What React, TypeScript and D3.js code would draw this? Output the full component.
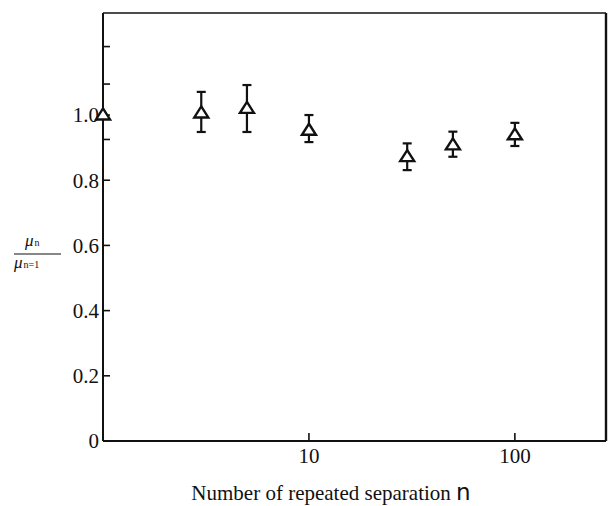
import * as d3 from 'd3';

// repeated separation count n and normalized mobility mu_n / mu_(n=1)
const nValues = [1, 3, 5, 10, 30, 50, 100];
const ratio = [1.0, 1.006, 1.02, 0.953, 0.872, 0.908, 0.939];
const errHigh = [null, 1.071, 1.092, 1.0, 0.913, 0.949, 0.976];
const errLow = [null, 0.948, 0.948, 0.917, 0.831, 0.872, 0.905];

const yTickLabels = [0, 0.2, 0.4, 0.6, 0.8, 1.0];
const yMinorTicks = [0.925, 1.095, 1.21];
const xTickValues = [10, 100];

const W = 612;
const H = 506;
const left = 103;
const right = 606;
const top = 13;
const bottom = 441;

export default function App() {
  const x = d3.scaleLog().domain([1, 277]).range([left, right]);
  const y = d3.scaleLinear().domain([0, 1.313]).range([bottom, top]);

  const tri = (cx: number, cy: number) => {
    const w = 7, h = 11;
    return `M${cx},${cy - h * 0.6} L${cx + w},${cy + h * 0.4} L${cx - w},${cy + h * 0.4} Z`;
  };

  const serif = { fontFamily: 'Liberation Serif, Times New Roman, serif' };

  return (
    <div style={{ position: 'absolute', left: 0, top: 0 }}>
      <svg width={W} height={H} style={{ display: 'block', background: '#fff' }}>
        {/* frame */}
        <line x1={left} y1={top} x2={right} y2={top} stroke="#111" strokeWidth={1.4} />
        <line x1={right} y1={top} x2={right} y2={bottom} stroke="#111" strokeWidth={2.4} />
        <line x1={left} y1={bottom} x2={right} y2={bottom} stroke="#111" strokeWidth={2} />
        <line x1={left} y1={top} x2={left} y2={bottom} stroke="#111" strokeWidth={2} />

        {/* y ticks */}
        {yTickLabels.map(v => (
          <g key={'y' + v}>
            <line x1={left} x2={left + 7} y1={y(v)} y2={y(v)} stroke="#111" strokeWidth={1.6} />
            <text x={left - 4} y={y(v)} dy="0.35em" textAnchor="end" style={serif} fontSize={21} fill="#111">
              {v === 0 ? '0' : d3.format('.1f')(v)}
            </text>
          </g>
        ))}
        {yMinorTicks.map(v => (
          <line key={'m' + v} x1={left} x2={left + 7} y1={y(v)} y2={y(v)} stroke="#111" strokeWidth={1.6} />
        ))}

        {/* x ticks */}
        {xTickValues.map(v => (
          <g key={'x' + v}>
            <line x1={x(v)} x2={x(v)} y1={bottom} y2={bottom - 8} stroke="#111" strokeWidth={1.6} />
            <text x={x(v)} y={bottom + 22} textAnchor="middle" style={serif} fontSize={21} fill="#111">
              {v}
            </text>
          </g>
        ))}

        {/* error bars */}
        {nValues.map((n, i) => {
          if (errHigh[i] == null || errLow[i] == null) return null;
          const cx = x(n);
          return (
            <g key={'e' + n} stroke="#111" strokeWidth={2.2}>
              <line x1={cx} x2={cx} y1={y(errHigh[i] as number)} y2={y(errLow[i] as number)} />
              <line x1={cx - 4.5} x2={cx + 4.5} y1={y(errHigh[i] as number)} y2={y(errHigh[i] as number)} />
              <line x1={cx - 4.5} x2={cx + 4.5} y1={y(errLow[i] as number)} y2={y(errLow[i] as number)} />
            </g>
          );
        })}

        {/* triangles */}
        {nValues.map((n, i) => (
          <path key={'t' + n} d={tri(x(n), y(ratio[i]))} fill="#fff" stroke="#111" strokeWidth={2.4} strokeLinejoin="miter" />
        ))}

        {/* y label fraction */}
        <g style={serif} fill="#111">
          <text x={25} y={246} fontSize={17} fontStyle="italic">μ<tspan fontSize={10} fontStyle="normal" dx={1}>n</tspan></text>
          <line x1={14} x2={61} y1={254} y2={254} stroke="#111" strokeWidth={1} />
          <text x={14} y={268} fontSize={17} fontStyle="italic">μ<tspan fontSize={10} fontStyle="normal" dx={1}>n=1</tspan></text>
        </g>

        {/* x title */}
        <text x={331} y={500} textAnchor="middle" style={serif} fontSize={21} fill="#111">
          Number of repeated separation <tspan style={{ fontFamily: 'DejaVu Sans, sans-serif' }} fontSize={23}>n</tspan>
        </text>
      </svg>
    </div>
  );
}
